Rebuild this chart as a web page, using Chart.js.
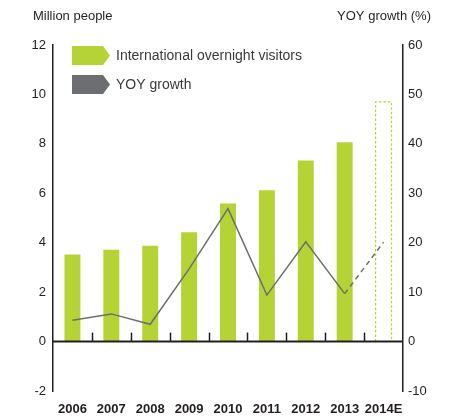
<!DOCTYPE html>
<html>
<head>
<meta charset="utf-8">
<script src="https://cdn.jsdelivr.net/npm/chart.js@4"></script>
<style>
  html, body { margin: 0; padding: 0; background: #fff; }
  #wrap { width: 465px; height: 419px; position: relative; }
</style>
</head>
<body>
<div id="wrap"><canvas id="visitorsChart"></canvas></div>
<script>
// Visitors and growth data
var years = ["2006", "2007", "2008", "2009", "2010", "2011", "2012", "2013", "2014E"];
var visitors = [3.52, 3.72, 3.88, 4.42, 5.59, 6.12, 7.33, 8.07, null];
var visitorsEstimate = [null, null, null, null, null, null, null, null, 9.7];
var yoyGrowth = [4.3, 5.6, 3.5, 14.7, 26.9, 9.4, 20.2, 9.7, 20.1];

var GREEN = "#b5d334";
var GREY = "#6d6e71";
var INK = "#231f20";
var FONT = "'Liberation Sans', Arial, sans-serif";

// Titles, legend, zero line and the dashed estimate bar
var decorations = {
    id: "decorations",
    afterDatasetsDraw: function(chart) {
        var ctx = chart.ctx;
        var x = chart.scales.x;
        var y = chart.scales.y;
        var y0 = y.getPixelForValue(0);

        // dashed outline for the estimate bar
        var est = chart.getDatasetMeta(1).data[8];
        if (est) {
            var half = est.width / 2;
            ctx.save();
            ctx.strokeStyle = GREEN;
            ctx.lineWidth = 1.2;
            ctx.setLineDash([2.5, 2]);
            ctx.beginPath();
            ctx.moveTo(est.x - half, y0);
            ctx.lineTo(est.x - half, est.y);
            ctx.lineTo(est.x + half, est.y);
            ctx.lineTo(est.x + half, y0);
            ctx.stroke();
            ctx.restore();
        }

        // zero line with category separator ticks
        ctx.save();
        ctx.strokeStyle = INK;
        ctx.lineWidth = 2;
        ctx.beginPath();
        ctx.moveTo(chart.chartArea.left, y0);
        ctx.lineTo(chart.chartArea.right, y0);
        ctx.stroke();
        ctx.lineWidth = 1.5;
        for (var i = 1; i < years.length; i++) {
            var tx = Math.round((x.getPixelForValue(i - 1) + x.getPixelForValue(i)) / 2) + 0.5;
            ctx.beginPath();
            ctx.moveTo(tx, y0);
            ctx.lineTo(tx, y0 - 9);
            ctx.stroke();
        }
        ctx.restore();
    },
    afterDraw: function(chart) {
        var ctx = chart.ctx;
        ctx.save();
        ctx.fillStyle = INK;
        ctx.font = "13px " + FONT;
        ctx.textBaseline = "middle";
        ctx.textAlign = "left";
        ctx.fillText("Million people", 33, 16);
        ctx.textAlign = "right";
        ctx.fillText("YOY growth (%)", 431, 16);

        // legend with arrow-shaped keys
        var items = [
            { label: "International overnight visitors", color: GREEN, top: 46 },
            { label: "YOY growth", color: GREY, top: 75 }
        ];
        ctx.font = "14px " + FONT;
        ctx.textAlign = "left";
        items.forEach(function(it) {
            var h = 19;
            ctx.fillStyle = it.color;
            ctx.beginPath();
            ctx.moveTo(72, it.top);
            ctx.lineTo(103, it.top);
            ctx.lineTo(110, it.top + h / 2);
            ctx.lineTo(103, it.top + h);
            ctx.lineTo(72, it.top + h);
            ctx.closePath();
            ctx.fill();
            ctx.fillStyle = "#3a3a3c";
            ctx.fillText(it.label, 116, it.top + h / 2 + 1);
        });
        ctx.restore();
    }
};

var ctx = document.getElementById("visitorsChart");

var chartData = {
    labels: years,
    datasets: [{
        type: "bar",
        label: "International overnight visitors",
        data: visitors,
        backgroundColor: GREEN,
        borderWidth: 0,
        yAxisID: "y",
        order: 2,
        grouped: false,
        categoryPercentage: 1,
        barPercentage: 0.41
    }, {
        type: "bar",
        label: "Estimate",
        data: visitorsEstimate,
        backgroundColor: "rgba(0,0,0,0)",
        borderWidth: 0,
        yAxisID: "y",
        order: 3,
        grouped: false,
        categoryPercentage: 1,
        barPercentage: 0.41
    }, {
        type: "line",
        label: "YOY growth",
        data: yoyGrowth,
        borderColor: GREY,
        borderWidth: 1.5,
        pointRadius: 0,
        tension: 0,
        yAxisID: "y1",
        order: 1,
        segment: {
            borderDash: function(c) { return c.p1DataIndex === 8 ? [5, 4] : undefined; }
        }
    }]
};

var chartOptions = {
    responsive: true,
    maintainAspectRatio: false,
    animation: false,
    layout: { padding: { top: 45, right: 0, left: 0, bottom: 0 } },
    plugins: {
        legend: { display: false },
        tooltip: { enabled: false }
    },
    scales: {
        x: {
            offset: true,
            grid: { display: false, drawTicks: false },
            border: { display: false },
            ticks: {
                color: INK,
                font: { family: FONT, size: 13, weight: "bold" },
                padding: 11,
                maxRotation: 0,
                autoSkip: false
            },
            afterFit: function(s) { s.height = 28; }
        },
        y: {
            position: "left",
            min: -2,
            max: 12,
            grid: { display: false, drawTicks: false },
            border: { display: true, color: INK, width: 1.5 },
            ticks: {
                stepSize: 2,
                color: INK,
                font: { family: FONT, size: 13 },
                padding: 7
            },
            afterFit: function(s) { s.width = 53; }
        },
        y1: {
            position: "right",
            min: -10,
            max: 60,
            grid: { display: false, drawTicks: false },
            border: { display: true, color: INK, width: 1.5 },
            ticks: {
                stepSize: 10,
                color: INK,
                font: { family: FONT, size: 13 },
                padding: 5
            },
            afterFit: function(s) { s.width = 62; }
        }
    }
};

var config = {
    type: "bar",
    data: chartData,
    options: chartOptions,
    plugins: [decorations]
};

var visitorsChart = new Chart(ctx, config);
</script>
</body>
</html>
